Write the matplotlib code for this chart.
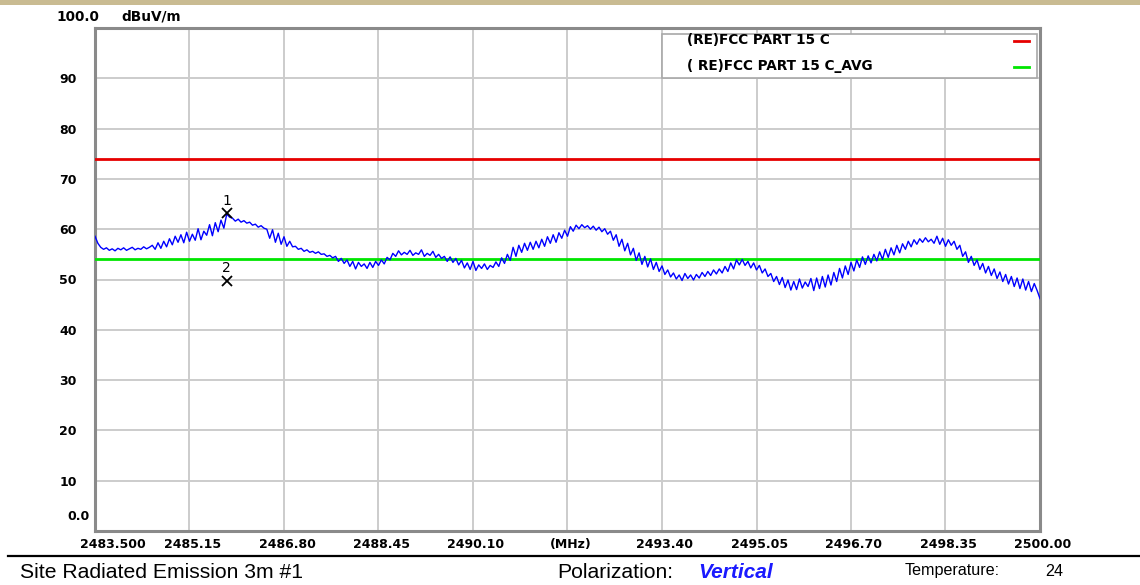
import numpy as np
import matplotlib
matplotlib.use("Agg")
import matplotlib.pyplot as plt
from matplotlib.transforms import ScaledTranslation

# ===== Datos =====
f_start, f_stop = 2483.5, 2500.0          # barrido [MHz]
y_min, y_max = 0.0, 100.0                  # dBuV/m

# nivel medido (traza azul), un valor cada 0.05 MHz
level = [
    58.6, 57.2, 56.4, 56.0, 56.3, 55.8, 56.1, 55.7, 56.2, 55.9, 56.3, 55.8, 56.1, 56.4, 55.9, 56.2, 56.0, 56.5, 56.1, 56.4,
    56.8, 56.0, 57.3, 56.2, 57.6, 56.5, 58.1, 56.9, 58.6, 57.4, 58.9, 57.3, 59.4, 57.6, 59.0, 57.8, 60.1, 57.9, 59.6, 58.8,
    60.9, 58.7, 61.3, 59.5, 61.8, 60.2, 63.0, 62.4, 62.2, 61.6, 62.0, 61.4, 61.7, 61.2, 61.4, 60.8, 61.0, 60.4, 60.7, 60.2,
    60.0, 58.2, 59.9, 57.4, 59.2, 57.0, 58.5, 56.6, 57.6, 56.5, 56.6, 56.0, 56.2, 55.6, 55.9, 55.4, 55.6, 55.2, 55.5, 55.0,
    55.1, 54.6, 54.8, 54.3, 54.6, 53.6, 54.2, 53.2, 53.9, 52.6, 53.6, 52.1, 53.4, 52.6, 53.1, 52.2, 53.4, 52.4, 53.6, 52.8,
    53.9, 53.1, 54.4, 53.9, 55.2, 54.6, 55.7, 54.9, 55.4, 55.0, 55.8, 54.8, 55.3, 55.0, 55.9, 54.6, 55.2, 54.8, 55.6, 54.4,
    55.0, 54.2, 54.6, 53.6, 54.5, 53.4, 54.2, 52.9, 53.8, 52.3, 53.3, 52.0, 53.6, 51.8, 52.9, 52.2, 53.1, 52.0, 52.8, 52.4,
    53.5, 52.6, 54.3, 53.2, 55.0, 53.8, 56.4, 54.6, 56.8, 55.4, 57.2, 55.8, 57.4, 56.0, 57.6, 56.3, 58.0, 56.6, 58.5, 57.2,
    58.9, 57.4, 59.3, 58.2, 59.8, 58.6, 60.5, 59.6, 60.8, 60.1, 60.9, 60.3, 60.7, 60.0, 60.6, 59.8, 60.4, 59.5, 60.1, 59.0,
    59.6, 57.8, 58.9, 56.6, 58.0, 55.7, 57.2, 54.9, 56.2, 53.8, 55.3, 53.0, 54.6, 52.5, 54.1, 52.0, 53.4, 51.6, 52.7, 51.0,
    51.9, 50.5, 51.3, 50.1, 50.9, 49.8, 51.2, 50.2, 50.9, 49.9, 51.0, 50.3, 51.4, 50.6, 51.6, 50.8, 51.9, 51.1, 52.1, 51.3,
    52.6, 51.6, 53.3, 52.1, 53.9, 52.9, 54.0, 52.8, 53.6, 52.3, 53.3, 51.9, 52.8, 51.3, 52.1, 50.6, 51.2, 49.6, 50.6, 49.0,
    50.4, 48.4, 49.9, 47.9, 49.6, 48.0, 50.1, 48.3, 49.5, 48.6, 50.2, 47.8, 50.3, 48.2, 50.6, 48.5, 50.9, 48.9, 51.4, 49.6,
    52.2, 50.3, 52.7, 51.0, 53.4, 51.7, 53.9, 52.4, 54.5, 53.0, 54.7, 53.3, 55.0, 53.7, 55.5, 54.0, 56.0, 54.4, 56.3, 54.9,
    56.8, 55.3, 57.1, 56.0, 57.6, 56.5, 57.9, 57.0, 58.1, 57.4, 58.3, 57.5, 58.0, 57.2, 58.6, 57.0, 58.2, 56.6, 57.9, 56.8,
    57.6, 56.0, 56.8, 54.6, 55.5, 53.4, 54.6, 52.8, 53.9, 52.0, 53.2, 51.3, 52.6, 50.8, 52.1, 50.2, 51.5, 49.6, 51.0, 49.1,
    50.6, 48.6, 50.3, 48.2, 50.1, 47.9, 49.6, 47.6, 49.2, 47.8, 46.2,
]

limit_pk  = 74.0   # (RE)FCC PART 15 C
limit_avg = 54.0   # ( RE)FCC PART 15 C_AVG

marker_freq  = [2485.80, 2485.80]
marker_level = [63.2, 49.7]
marker_name  = ["1", "2"]

x_ticks  = [2483.5, 2485.15, 2486.8, 2488.45, 2490.1, 2491.75, 2493.4, 2495.05, 2496.7, 2498.35, 2500.0]
x_labels = ["2483.500", "2485.15", "2486.80", "2488.45", "2490.10", "(MHz)",
            "2493.40", "2495.05", "2496.70", "2498.35", "2500.00"]
y_ticks  = [10, 20, 30, 40, 50, 60, 70, 80, 90]

freq = np.linspace(f_start, f_stop, len(level))

# ===== Figura =====
W, H = 1140, 585
fig = plt.figure(figsize=(W/100, H/100), dpi=100)
fig.patch.set_facecolor("white")

def fx(px): return px / W
def fy(py): return 1 - py / H

ax = fig.add_axes([fx(95), fy(531), (1040-95)/W, (531-28)/H])
ax.set_xlim(f_start, f_stop)
ax.set_ylim(y_min, y_max)

ax.grid(True, color="#cccccc", lw=1.4)
ax.set_axisbelow(True)
for s in ax.spines.values():
    s.set_color("#8a8a8a"); s.set_linewidth(2.2)

tick_font = dict(family="DejaVu Sans", weight="bold", size=9.0)
leg_font  = dict(family="DejaVu Sans", weight="bold", size=9.8)
ax.set_xticks(x_ticks, x_labels, **tick_font)
ax.set_yticks(y_ticks, [str(v) for v in y_ticks], **tick_font)
ax.tick_params(length=0, pad=5)
ax.tick_params(axis="y", pad=13)
for i, lab in enumerate(ax.get_xticklabels()):
    dx = 18 if i == 0 else 3
    lab.set_transform(lab.get_transform() + ScaledTranslation(dx/100, 0, fig.dpi_scale_trans))

# límites y traza
ax.axhline(limit_pk,  color="#e60000", lw=2.0, zorder=3)
ax.axhline(limit_avg, color="#00e600", lw=2.0, zorder=3)
ax.plot(freq, level, color="#0000ff", lw=1.0, zorder=4)

# marcadores
for f, v, n in zip(marker_freq, marker_level, marker_name):
    ax.plot(f, v, marker="x", ms=7, mew=1.3, color="black", zorder=5)
    ax.annotate(n, (f, v), xytext=(0, 4), textcoords="offset points",
                ha="center", va="bottom", fontsize=10, family="DejaVu Sans")

# leyenda (caja propia como en el reporte original)
leg_x0, leg_x1, leg_y0, leg_y1 = 662, 1037, 34, 78
fig.patches.append(plt.Rectangle((fx(leg_x0), fy(leg_y1)), (leg_x1-leg_x0)/W, (leg_y1-leg_y0)/H,
                                 transform=fig.transFigure, facecolor="white",
                                 edgecolor="#a8a8a8", lw=1.2, zorder=5))
fig.text(fx(687), fy(40), "(RE)FCC PART 15 C", va="center", ha="left", zorder=6, **leg_font)
fig.text(fx(687), fy(66), "( RE)FCC PART 15 C_AVG", va="center", ha="left", zorder=6, **leg_font)
fig.lines.append(plt.Line2D([fx(1014), fx(1029)], [fy(41), fy(41)], transform=fig.transFigure,
                            color="#e60000", lw=2, zorder=6))
fig.lines.append(plt.Line2D([fx(1014), fx(1029)], [fy(67), fy(67)], transform=fig.transFigure,
                            color="#00e600", lw=2, zorder=6))

# textos del eje Y fuera de los ticks
fig.text(fx(99), fy(17), "100.0", ha="right", va="center", **leg_font)
fig.text(fx(121), fy(17), "dBuV/m", ha="left", va="center", **leg_font)
fig.text(fx(90), fy(517), "0.0", ha="right", va="center", **tick_font)

# franja superior y pie de página
fig.patches.append(plt.Rectangle((0, fy(5)), 1, 5/H, transform=fig.transFigure,
                                 facecolor="#c9bb92", edgecolor="none"))
fig.lines.append(plt.Line2D([fx(8), fx(1140)], [fy(556), fy(556)], transform=fig.transFigure,
                            color="black", lw=1.6))
foot = dict(family="Liberation Sans", size=15.2, va="center")
fig.text(fx(20), fy(572), "Site Radiated Emission 3m #1", ha="left", **foot)
fig.text(fx(557), fy(572), "Polarization:", ha="left", **foot)
fig.text(fx(698), fy(572), "Vertical", ha="left", color="#1a1aff",
         family="Liberation Sans", size=15.0, weight="bold", style="italic", va="center")
fig.text(fx(905), fy(571), "Temperature:", ha="left", family="Liberation Sans", size=11.6, va="center")
fig.text(fx(1045), fy(571), "24", ha="left", family="Liberation Sans", size=11.6, va="center")

fig.savefig("out.png", dpi=100)
